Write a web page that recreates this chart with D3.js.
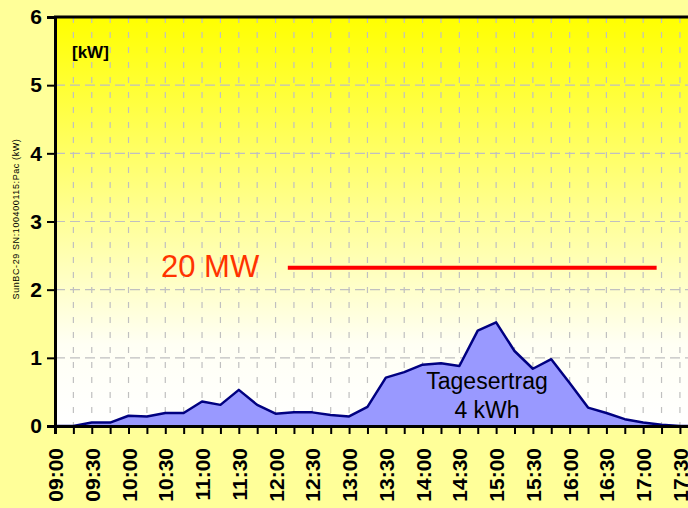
<!DOCTYPE html>
<html>
<head>
<meta charset="utf-8">
<script src="https://cdn.jsdelivr.net/npm/d3@7"></script>
<style>
  html, body { margin: 0; padding: 0; background: #FFFF99; }
  svg { display: block; font-family: Arial, "Liberation Sans", sans-serif; }
</style>
</head>
<body>
<svg id="chart" width="688" height="508"></svg>
<script>
// Tagesleistung SunBC-29, 15-Minuten-Werte
const times = [
  '09:00', '09:15', '09:30', '09:45', '10:00', '10:15', '10:30', '10:45',
  '11:00', '11:15', '11:30', '11:45', '12:00', '12:15', '12:30', '12:45',
  '13:00', '13:15', '13:30', '13:45', '14:00', '14:15', '14:30', '14:45',
  '15:00', '15:15', '15:30', '15:45', '16:00', '16:15', '16:30', '16:45',
  '17:00', '17:15', '17:30', '17:45'
];
const pac = [
  0, 0, 0.05, 0.05, 0.15, 0.14, 0.19, 0.19,
  0.36, 0.31, 0.53, 0.31, 0.18, 0.20, 0.20, 0.16,
  0.14, 0.28, 0.71, 0.79, 0.90, 0.92, 0.88, 1.40,
  1.52, 1.10, 0.84, 0.98, 0.63, 0.27, 0.19, 0.10,
  0.05, 0.02, 0, 0
];
const tickLabels = [
  '09:00', '09:30', '10:00', '10:30', '11:00', '11:30', '12:00', '12:30',
  '13:00', '13:30', '14:00', '14:30', '15:00', '15:30', '16:00', '16:30',
  '17:00', '17:30'
];
const yTicks = [0, 1, 2, 3, 4, 5, 6];
// red reference line (annotation)
const refLine = { from: '12:10', to: '17:11', value: 2.32, label: '20 MW' };
const dailyYield = ['Tagesertrag', '4 kWh'];
const yLabel = 'SunBC-29 SN:100400115:Pac (kW)';

const parse = d3.timeParse('%H:%M');
const data = times.map((t, i) => ({ t: parse(t), v: pac[i] }));

const svg = d3.select('#chart');
const mLeft = 55, mTop = 17, mBottom = 426, mRight = 688;
const quarter = 18.38;

const x = d3.scaleTime()
  .domain([parse('09:00'), parse('18:00')])
  .range([mLeft, mLeft + 36 * quarter]);
const y = d3.scaleLinear().domain([0, 6]).range([mBottom, mTop]);

// background gradient of plot area
const defs = svg.append('defs');
const grad = defs.append('linearGradient')
  .attr('id', 'bg').attr('x1', 0).attr('y1', 0).attr('x2', 0).attr('y2', 1);
grad.append('stop').attr('offset', '0%').attr('stop-color', '#FFFF00');
grad.append('stop').attr('offset', '80%').attr('stop-color', '#FFFFF4');
grad.append('stop').attr('offset', '100%').attr('stop-color', '#FFFFFF');

svg.append('rect')
  .attr('x', mLeft).attr('y', mTop)
  .attr('width', mRight - mLeft).attr('height', mBottom - mTop)
  .attr('fill', 'url(#bg)');

// grid
const quarters = d3.timeMinute.every(15).range(parse('09:15'), parse('18:00'));
svg.append('g')
  .selectAll('line')
  .data(quarters)
  .join('line')
  .attr('x1', d => x(d)).attr('x2', d => x(d))
  .attr('y1', mTop).attr('y2', mBottom)
  .attr('stroke', '#C0C0C0')
  .attr('stroke-width', 1.2)
  .attr('stroke-dasharray', '6,9');

svg.append('g')
  .selectAll('line')
  .data(yTicks.slice(1, -1))
  .join('line')
  .attr('x1', mLeft).attr('x2', mRight)
  .attr('y1', d => y(d)).attr('y2', d => y(d))
  .attr('stroke', '#C0C0C0')
  .attr('stroke-width', 1.2)
  .attr('stroke-dasharray', '10,5');

// area + line
const area = d3.area()
  .x(d => x(d.t))
  .y0(y(0))
  .y1(d => y(d.v));
const line = d3.line()
  .x(d => x(d.t))
  .y(d => y(d.v));

svg.append('path')
  .datum(data)
  .attr('d', area)
  .attr('fill', '#9999FF');

svg.append('path')
  .datum(data)
  .attr('d', line)
  .attr('fill', 'none')
  .attr('stroke', '#000080')
  .attr('stroke-width', 2.5)
  .attr('stroke-linejoin', 'round');

// daily yield text
svg.append('g')
  .selectAll('text')
  .data(dailyYield)
  .join('text')
  .attr('x', 487)
  .attr('y', (d, i) => 389 + i * 29)
  .attr('text-anchor', 'middle')
  .style('font-size', '23px')
  .attr('fill', '#000')
  .text(d => d);

// red reference line + label
svg.append('line')
  .attr('x1', x(parse(refLine.from))).attr('x2', x(parse(refLine.to)))
  .attr('y1', y(refLine.value)).attr('y2', y(refLine.value))
  .attr('stroke', '#FF0000')
  .attr('stroke-width', 4);

svg.append('text')
  .attr('x', 161).attr('y', 277)
  .style('font-size', '31px')
  .attr('fill', '#FF3300')
  .text(refLine.label);

// axes
const yAxis = d3.axisLeft(y).tickValues(yTicks).tickFormat(d3.format('d'))
  .tickSize(8).tickPadding(5);
const gy = svg.append('g').attr('transform', `translate(${mLeft},0)`).call(yAxis);
gy.select('.domain').attr('stroke', '#000').attr('stroke-width', 3);
gy.selectAll('.tick line').attr('stroke', '#000').attr('stroke-width', 2);
gy.selectAll('.tick text')
  .attr('fill', '#000')
  .style('font-size', '21px')
  .style('font-weight', 'bold')
  .style('font-family', 'Arial, "Liberation Sans", sans-serif');

const xAxis = d3.axisBottom(x)
  .tickValues(d3.timeMinute.every(15).range(parse('09:00'), parse('18:00')))
  .tickSize(8)
  .tickFormat(d => {
    const s = d3.timeFormat('%H:%M')(d);
    return tickLabels.includes(s) ? s : '';
  });
const gx = svg.append('g').attr('transform', `translate(0,${mBottom})`).call(xAxis);
gx.select('.domain').attr('stroke', '#000').attr('stroke-width', 3);
gx.selectAll('.tick line').attr('stroke', '#000').attr('stroke-width', 2);
gx.selectAll('.tick text')
  .attr('fill', '#000')
  .attr('transform', 'rotate(-90)')
  .attr('x', -22)
  .attr('y', 0)
  .attr('dy', '0.36em')
  .attr('text-anchor', 'end')
  .style('font-size', '21px')
  .style('font-weight', 'bold')
  .style('font-family', 'Arial, "Liberation Sans", sans-serif');

// top border
svg.append('line')
  .attr('x1', mLeft - 1).attr('x2', mRight)
  .attr('y1', mTop).attr('y2', mTop)
  .attr('stroke', '#000').attr('stroke-width', 3);

// unit label
svg.append('text')
  .attr('x', 72).attr('y', 58)
  .style('font-size', '17px')
  .style('font-weight', 'bold')
  .text('[kW]');

// y axis title
svg.append('text')
  .attr('transform', 'translate(19,219) rotate(-90)')
  .attr('text-anchor', 'middle')
  .style('font-size', '9px')
  .style('letter-spacing', '0.6px')
  .text(yLabel);
</script>
</body>
</html>
